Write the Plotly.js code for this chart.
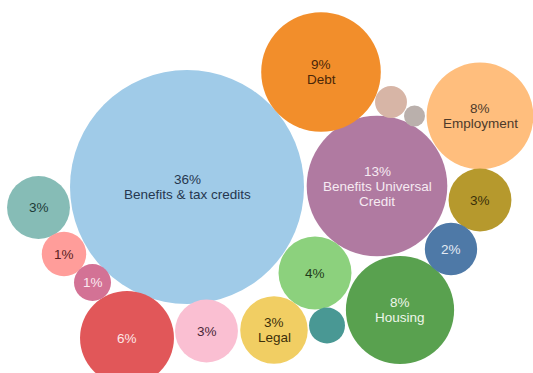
<!DOCTYPE html>
<html>
<head>
<meta charset="utf-8">
<script src="https://cdn.plot.ly/plotly-3.0.1.min.js"></script>
<style>
  html, body { margin: 0; padding: 0; background: #ffffff; }
  #chart { width: 533px; height: 373px; }
</style>
</head>
<body>
<div id="chart"></div>
<script>
// Categories (names shown in bubbles; "" where only the share is shown)
const names = ["Benefits & tax credits", "Benefits Universal Credit", "Debt", "Housing",
  "Employment", "", "", "Legal", "", "", "", "", "", "", "", "", ""];
// Estimated share of enquiries (%)
const shares = [36.0, 13.0, 9.4, 7.7, 7.5, 5.8, 3.5, 3.0, 2.6, 2.6, 2.6, 1.8, 1.3, 0.9, 0.85, 0.67, 0.29];
// Percent labels as printed ("" = no label)
const pctLabels = ["36%", "13%", "9%", "8%", "8%", "6%", "4%", "3%", "3%", "3%", "3%", "2%", "1%", "1%", "", "", ""];
// Bubble centre positions (packing layout)
const posX = [187, 377, 321, 400, 480, 127, 315, 274, 38.5, 206.5, 480, 451, 64, 92.5, 327, 391, 414.5];
const posY = [187, 186, 72, 310, 116, 338, 273, 330, 207.5, 331, 200, 249, 254, 282.5, 325.5, 102, 116];

const fills = ["#a0cbe8", "#b07aa1", "#f28e2b", "#59a14f", "#ffbe7d", "#e15759", "#8cd17d", "#f1ce63",
  "#86bcb6", "#fabfd2", "#b6992d", "#4e79a7", "#ff9d9a", "#d37295", "#499894", "#d7b5a6", "#bab0ac"];
const textColors = ["#26374f", "#f6eaf2", "#4a2608", "#eef6ea", "#4d3a2a", "#fde6e6", "#1f3a1a", "#3d2f0a",
  "#1d3a37", "#4a2838", "#3a300a", "#e3eaf4", "#5a1f1f", "#fbe8f0", "#ffffff", "#ffffff", "#ffffff"];

const K = 19.5; // pixel radius per sqrt(share)
const diam = shares.map(v => 2 * K * Math.sqrt(v));

const trace = {
  type: "scatter",
  mode: "markers",
  x: posX,
  y: posY,
  text: names.map((n, i) => (n ? n : pctLabels[i])),
  hoverinfo: "text",
  marker: {
    size: diam,
    sizemode: "diameter",
    color: fills,
    opacity: 1,
    line: { width: 0 }
  }
};

// Wrap long names like the reference
function wrap(name) {
  if (name === "Benefits Universal Credit") return ["Benefits Universal", "Credit"];
  return name ? [name] : [];
}

const annotations = [];
const LINE = 15;
for (let i = 0; i < names.length; i++) {
  if (!pctLabels[i]) continue;
  const lines = [pctLabels[i]].concat(wrap(names[i]));
  const n = lines.length;
  lines.forEach((t, j) => {
    annotations.push({
      x: posX[i], y: posY[i], xref: "x", yref: "y",
      text: t, showarrow: false,
      yshift: -((j - (n - 1) / 2) * LINE),
      font: { family: "Liberation Sans, Arial, sans-serif", size: 13.5, color: textColors[i] }
    });
  });
}

const layout = {
  width: 533, height: 373,
  margin: { l: 0, r: 0, t: 0, b: 0 },
  paper_bgcolor: "#ffffff",
  plot_bgcolor: "#ffffff",
  showlegend: false,
  xaxis: { range: [0, 533], visible: false, fixedrange: true },
  yaxis: { range: [373, 0], visible: false, fixedrange: true },
  annotations: annotations
};

Plotly.newPlot("chart", [trace], layout, { displayModeBar: false, staticPlot: true });
</script>
</body>
</html>
